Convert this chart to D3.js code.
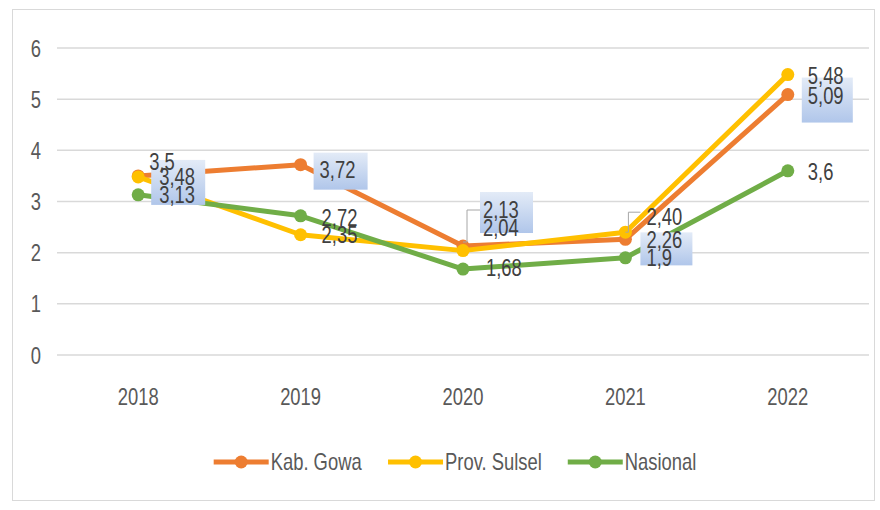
<!DOCTYPE html>
<html>
<head>
<meta charset="utf-8">
<script src="https://cdn.jsdelivr.net/npm/d3@7"></script>
<style>
  body { margin: 0; background: #fff; }
  text { font-family: "Liberation Sans", Arial, sans-serif; }
</style>
</head>
<body>
<script>
// data
let years = ["2018", "2019", "2020", "2021", "2022"];
let gowa = [3.5, 3.72, 2.13, 2.26, 5.09];
let sulsel = [3.48, 2.35, 2.04, 2.40, 5.48];
let nasional = [3.13, 2.72, 1.68, 1.9, 3.6];
let yTicks = [0, 1, 2, 3, 4, 5, 6];
let seriesNames = ["Kab. Gowa", "Prov. Sulsel", "Nasional"];

let width = 880, height = 510;
let colors = ["#ED7D31", "#FFC000", "#70AD47"];
let fontSize = "23px", squeeze = 0.8;

// label placement, offsets from the point (start anchored)
let labelOffsets = [
    [[11, -14], [19, 5], [20, -36], [21, 1], [20, 1]],
    [[21, 0], [21, 0], [20, -23], [21, -15], [20, 1]],
    [[21, 0], [21, 2], [23, -1], [21, 0], [20, 1]]
];
// highlighted label boxes for Kab. Gowa: [x0, y0, x1, y1] from the point
let gowaBoxes = [[13, -16, 67, 29], [13, -12, 67, 25], [17, -54, 70, -13], [15, -7, 67, 26], [14, -17, 65, 28]];

let series = [gowa, sulsel, nasional].map(function(vals, i) {
    return { name: seriesNames[i], color: colors[i], values: vals, idx: i };
});

let svg = d3.select("body").append("svg")
    .attr("width", width)
    .attr("height", height);

let defs = svg.append("defs");
let grad = defs.append("linearGradient")
    .attr("id", "boxGrad")
    .attr("x1", 0).attr("y1", 0).attr("x2", 0).attr("y2", 1);
grad.append("stop").attr("offset", "0%").attr("stop-color", "#e3ebf7");
grad.append("stop").attr("offset", "100%").attr("stop-color", "#b0c6ea");

svg.append("rect")
    .attr("x", 12.5).attr("y", 9.5)
    .attr("width", 862).attr("height", 491)
    .attr("fill", "#fff")
    .attr("stroke", "#d9d9d9");

let x = d3.scaleBand()
    .domain(years)
    .range([57, 869]);

let y = d3.scaleLinear()
    .domain([0, 6])
    .range([355, 48]);

// narrow look: squeeze text horizontally around its anchor
function narrow(sel) {
    sel.each(function() {
        let t = d3.select(this);
        let tx = +t.attr("x") || 0, ty = +t.attr("y") || 0;
        t.attr("x", 0).attr("y", 0)
            .attr("transform", "translate(" + tx + "," + ty + ") scale(" + squeeze + ",1)");
    });
}

// gridlines
svg.append("g")
    .selectAll("line")
    .data(yTicks)
    .enter().append("line")
    .attr("x1", 57).attr("x2", 869)
    .attr("y1", function(d) { return y(d); })
    .attr("y2", function(d) { return y(d); })
    .attr("stroke", "#d9d9d9")
    .attr("stroke-width", 1.5);

let yAxis = svg.append("g")
    .attr("transform", "translate(41,0)")
    .call(d3.axisLeft(y).tickValues(yTicks).tickFormat(d3.format("d")).tickSize(0).tickPadding(0));
yAxis.select(".domain").remove();
yAxis.selectAll("text")
    .attr("fill", "#595959")
    .style("font-size", fontSize)
    .attr("dy", "0.35em")
    .call(narrow);

let xAxis = svg.append("g")
    .attr("transform", "translate(0,397)")
    .call(d3.axisBottom(x).tickSize(0).tickPadding(0));
xAxis.select(".domain").remove();
xAxis.selectAll("text")
    .attr("fill", "#595959")
    .style("font-size", fontSize)
    .attr("dy", "0.35em")
    .call(narrow);

let cx = function(i) { return x(years[i]) + x.bandwidth() / 2; };

let line = d3.line()
    .x(function(d, i) { return cx(i); })
    .y(function(d) { return y(d); });

let sg = svg.selectAll(".series")
    .data(series)
    .enter().append("g")
    .attr("class", "series");

sg.append("path")
    .attr("d", function(d) { return line(d.values); })
    .attr("fill", "none")
    .attr("stroke", function(d) { return d.color; })
    .attr("stroke-width", 5)
    .attr("stroke-linejoin", "round");

sg.selectAll("circle")
    .data(function(d) { return d.values.map(function(v) { return { v: v, color: d.color }; }); })
    .enter().append("circle")
    .attr("cx", function(d, i) { return cx(i); })
    .attr("cy", function(d) { return y(d.v); })
    .attr("r", 6.5)
    .attr("fill", function(d) { return d.color; });

// leader lines (2020 Kab. Gowa, 2021 Prov. Sulsel)
let leaders = [
    { s: 0, i: 2, pts: [[0, -4], [4, -4], [4, -36], [17, -36]] },
    { s: 1, i: 3, pts: [[0, 0], [3, 0], [3, -20], [15, -20]] }
];
svg.append("g")
    .selectAll("path")
    .data(leaders)
    .enter().append("path")
    .attr("d", function(d) {
        let px = cx(d.i), py = y(series[d.s].values[d.i]);
        return d3.line()(d.pts.map(function(p) { return [px + p[0], py + p[1]]; }));
    })
    .attr("fill", "none")
    .attr("stroke", "#a6a6a6")
    .attr("stroke-width", 1);

// label boxes
svg.append("g")
    .selectAll("rect")
    .data(gowa)
    .enter().append("rect")
    .attr("x", function(d, i) { return cx(i) + gowaBoxes[i][0]; })
    .attr("y", function(d, i) { return y(d) + gowaBoxes[i][1]; })
    .attr("width", function(d, i) { return gowaBoxes[i][2] - gowaBoxes[i][0]; })
    .attr("height", function(d, i) { return gowaBoxes[i][3] - gowaBoxes[i][1]; })
    .attr("fill", "url(#boxGrad)");

// data labels
let fmt = d3.format(".2~f");
let labelData = [];
series.forEach(function(s) {
    s.values.forEach(function(v, i) {
        let txt = (s.idx === 1 && i === 3) ? "2,40" : fmt(v).replace(".", ",");
        labelData.push({ x: cx(i) + labelOffsets[s.idx][i][0], y: y(v) + labelOffsets[s.idx][i][1], t: txt });
    });
});
svg.append("g")
    .selectAll("text")
    .data(labelData)
    .enter().append("text")
    .attr("x", function(d) { return d.x; })
    .attr("y", function(d) { return d.y; })
    .attr("dy", "0.35em")
    .attr("fill", "#404040")
    .style("font-size", fontSize)
    .text(function(d) { return d.t; })
    .call(narrow);

// legend
let legend = svg.append("g").attr("transform", "translate(0,462)");
let items = legend.selectAll("g")
    .data(series)
    .enter().append("g");
items.append("line")
    .attr("x1", 0).attr("x2", 55)
    .attr("stroke", function(d) { return d.color; })
    .attr("stroke-width", 5);
items.append("circle")
    .attr("cx", 27.5).attr("r", 6.5)
    .attr("fill", function(d) { return d.color; });
items.append("text")
    .attr("x", 57)
    .attr("dy", "0.35em")
    .attr("fill", "#595959")
    .style("font-size", fontSize)
    .text(function(d) { return d.name; })
    .call(narrow);

let pos = 0, starts = [];
items.each(function() {
    starts.push(pos);
    pos += this.getBBox().width + 26;
});
let total = pos - 26;
let left = 455 - total / 2;
items.attr("transform", function(d, i) { return "translate(" + (left + starts[i]) + ",0)"; });
</script>
</body>
</html>
